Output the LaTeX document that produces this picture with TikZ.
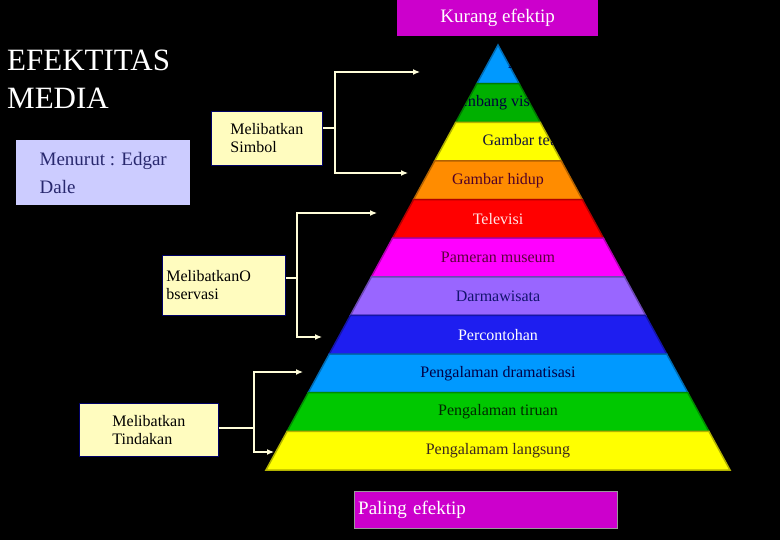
\documentclass[tikz,border=0pt]{standalone}
\usepackage{fontspec}
\setmainfont{Liberation Serif}
\begin{document}
\begin{tikzpicture}[x=1pt,y=-1pt,
  lbl/.style={draw=black!60!blue,line width=0.8pt,fill=yellow!25,align=left,font=\fontsize{16}{18}\selectfont,inner sep=4pt,anchor=north west},
  conn/.style={draw=yellow!15,line width=1.2pt},
  arr/.style={conn,-{Latex[length=7pt,width=6pt]}},
  bandtxt/.style={font=\fontsize{16}{18}\selectfont}]
\usetikzlibrary{arrows.meta}
\fill[black] (0,0) rectangle (780,540);
\useasboundingbox (0,0) rectangle (780,540);
% pyramid
\def\ax{498}\def\ay{45}\def\by{470}
\def\hw{232}
\foreach \i/\fc/\tc/\txt/\dx in {
 0/{0,153,255}/{0,0,90}/Lambang verbal/62,
 1/{0,176,0}/{0,0,60}/Lambang visual/0,
 2/{255,255,0}/{20,20,60}/Gambar tetap/28,
 3/{255,140,0}/{80,0,40}/Gambar hidup/0,
 4/{255,0,0}/{255,230,230}/Televisi/0,
 5/{255,0,255}/{90,0,60}/Pameran museum/0,
 6/{153,102,255}/{20,20,110}/Darmawisata/0,
 7/{30,30,240}/{255,255,255}/Percontohan/0,
 8/{0,153,255}/{0,0,70}/Pengalaman dramatisasi/0,
 9/{0,200,0}/{0,40,0}/Pengalaman tiruan/0,
 10/{255,255,0}/{60,40,30}/Pengalamam langsung/0}{
  \pgfmathsetmacro\ya{\ay+(\by-\ay)*\i/11}
  \pgfmathsetmacro\yb{\ay+(\by-\ay)*(\i+1)/11}
  \pgfmathsetmacro\wa{\hw*\i/11}
  \pgfmathsetmacro\wb{\hw*(\i+1)/11}
  \definecolor{fc}{RGB}{\fc}\definecolor{tc}{RGB}{\tc}
  \begin{scope}
  \path[fill=fc,draw=fc!70!black,line width=1.5pt] (\ax-\wa,\ya) -- (\ax+\wa,\ya) -- (\ax+\wb,\yb) -- (\ax-\wb,\yb) -- cycle;
  \clip (\ax-\wa,\ya) -- (\ax+\wa,\ya) -- (\ax+\wb,\yb) -- (\ax-\wb,\yb) -- cycle;
  \node[bandtxt,text=tc] (b\i) at (\ax+\dx,{(\ya+\yb)/2}) {\txt};
  \end{scope}
}
% title etc
\node[anchor=north west,text=white,align=left,font=\fontsize{31}{38}\selectfont,inner sep=0pt] (title) at (7,50) {EFEKTITAS\\MEDIA};
\node[draw=none,fill={rgb,255:red,204;green,204;blue,255},text={rgb,255:red,40;green,40;blue,110},align=left,anchor=north west,minimum width=174pt,minimum height=65pt,font=\fontsize{19}{28}\selectfont,inner sep=5pt] (dale) at (16,140) {Menurut : Edgar\\Dale};
\node[fill={rgb,255:red,204;green,0;blue,204},text=white,minimum width=201pt,minimum height=36pt,anchor=north west,font=\fontsize{19}{22}\selectfont,inner sep=0pt] (kurang) at (397,0) {Kurang efektip};
\node[fill={rgb,255:red,204;green,0;blue,204},draw=black!40,text=white,minimum width=263pt,minimum height=37pt,anchor=north west,font=\fontsize{19}{22}\selectfont,inner sep=0pt,text width=255pt,align=left] (paling) at (354,491) {Paling efektip};
% boxes
\node[lbl,minimum width=111pt,minimum height=54pt] (simbol) at (211,111) {Melibatkan\\Simbol};
\node[lbl,minimum width=123pt,minimum height=60pt,text width=115pt] (obs) at (162,255) {Melibatkan\rlap{O}\\bservasi};
\node[lbl,minimum width=139pt,minimum height=53pt] (tind) at (79,403) {Melibatkan\\Tindakan};
% connectors
\coordinate (s1) at (420,72); \coordinate (s2) at (408,173);
\draw[conn] (simbol.east |- 0,128) -- (335,128);
\draw[arr] (335,128) |- (s1);
\draw[arr] (335,128) |- (s2);
\coordinate (o1) at (377,213); \coordinate (o2) at (322,337);
\draw[conn] (obs.east |- 0,278) -- (297,278);
\draw[arr] (297,278) |- (o1);
\draw[arr] (297,278) |- (o2);
\coordinate (t1) at (303,372); \coordinate (t2) at (274,452);
\draw[conn] (tind.east |- 0,428) -- (254,428);
\draw[arr] (254,428) |- (t1);
\draw[arr] (254,428) |- (t2);
\end{tikzpicture}
\end{document}
